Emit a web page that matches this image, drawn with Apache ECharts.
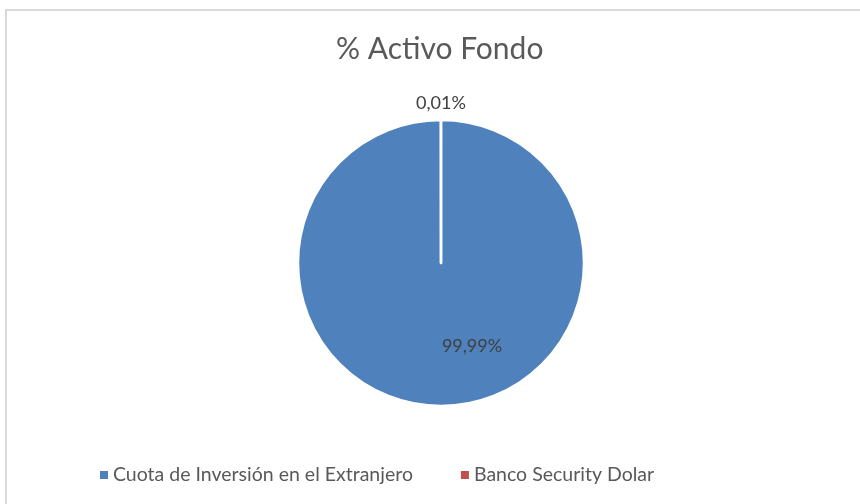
<!DOCTYPE html>
<html lang="es">
<head>
	<meta charset="UTF-8">
	<title>% Activo Fondo</title>
	<style>
		html, body { margin: 0; padding: 0; background: #fff; }
		/* marco del gráfico */
		.frame {
			position: absolute; left: 5px; top: 9px; width: 870px; height: 510px;
			border-left: 2px solid #d9d9d9; border-top: 2px solid #d9d9d9;
			pointer-events: none;
		}
		#chartBox { position: absolute; left: 0; top: 0; width: 860px; height: 504px; }
	</style>
</head>
<body>
<div class="frame"></div>
<div id="chartBox"></div>

<script src="https://cdn.jsdelivr.net/npm/echarts@6/dist/echarts.min.js"></script>
<script>
    // datos
    var categorias = ['Cuota de Inversión en el Extranjero', 'Banco Security Dolar'];
    var valores = [99.99, 0.01];
    var etiquetas = ['99,99%', '0,01%'];
    var colores = ['#4F81BD', '#C0504D'];

    var fuente = 'Lato';

    var myChart = echarts.init(document.getElementById('chartBox'));
    var datos = [];
    for (var i = 0; i < categorias.length; i++) {
        datos.push({
            name: categorias[i],
            value: valores[i],
            label: {
                position: i === 0 ? 'inside' : 'outside'
            }
        });
    }

    var option = {
        animation: false,
        color: colores,
        title: {
            text: '% Activo Fondo',
            left: 331,
            top: 29,
            textStyle: {
                fontFamily: fuente,
                fontSize: 30,
                fontWeight: 'normal',
                color: '#595959'
            }
        },
        legend: {
            bottom: 14,
            left: 95,
            icon: 'rect',
            itemWidth: 8,
            itemHeight: 8,
            itemGap: 48,
            itemStyle: { borderWidth: 0 },
            textStyle: {
                fontFamily: fuente,
                fontSize: 19.5,
                color: '#595959'
            },
            data: categorias
        },
        series: [{
            type: 'pie',
            center: [441, 263],
            radius: 143,
            startAngle: 90,
            data: datos,
            itemStyle: {
                borderColor: '#fff',
                borderWidth: 2.5
            },
            label: {
                fontFamily: fuente,
                fontSize: 18,
                color: '#404040',
                formatter: function (p) { return etiquetas[p.dataIndex]; }
            },
            labelLine: { show: false, length: 17, length2: 0 },
            labelLayout: function (p) {
                if (p.dataIndex === 0) return { dx: 31, dy: 9 };
                return { align: 'center', dx: 5 };
            }
        }]
    };
    myChart.setOption(option);
</script>
</body>
</html>
